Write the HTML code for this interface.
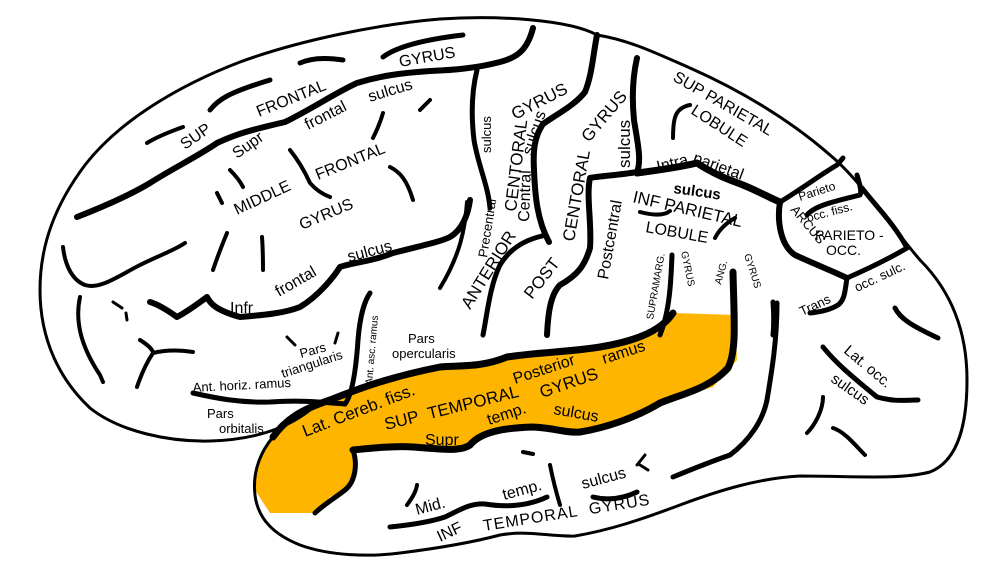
<!DOCTYPE html>
<html><head><meta charset="utf-8"><style>
html,body{margin:0;padding:0;background:#fff;width:992px;height:573px;overflow:hidden}
svg text{font-family:"Liberation Sans",sans-serif;fill:#000}
</style></head><body>
<svg width="992" height="573" viewBox="0 0 992 573" xmlns="http://www.w3.org/2000/svg">
<path d="M273,437 L307,405 L360,387 L440,367 L480,368 L507,357 L590,350 L657,333 L673,313 L735,315 L737,360 L713,387 L660,403 L623,423 L573,433 L533,427 L487,430 L467,450 L413,447 L353,450 L357,473 L347,490 L330,497 L317,513 L270,513 L255,490 L257,463 Z" fill="#FDB500"/>
<g fill="none" stroke="#000" stroke-linecap="round" stroke-linejoin="round">
<path stroke-width="3" d="M273,437 C262,450 252,470 255,495 C258,520 275,535 300,545 C330,556 370,557 400,553 C440,548 470,543 500,535 C530,530 550,537 575,536 C610,530 640,520 680,505 C720,490 760,478 800,476 C850,476 900,480 930,472 C960,460 967,420 967,380 C967,330 950,290 920,260 C890,225 860,180 830,155 C790,120 740,90 690,68 C660,55 630,40 597,35 C570,20 500,15 440,19 C380,24 300,40 240,62 C180,85 120,120 85,165 C55,205 40,245 40,290 C40,340 60,380 90,408 C120,432 170,442 210,441 C250,440 285,430 310,410"/>
<path stroke-width="5" d="M193,393 C215,398 240,403 270,402 C300,400 320,402 345,404"/>
<path stroke-width="7" d="M273,437 C285,420 300,410 330,400 C360,388 390,377 440,367 C460,365 480,368 507,357 C540,352 570,352 600,347 C630,342 660,333 673,313"/>
<path stroke-width="5" d="M345,404 C352,395 356,370 358,340 C360,315 365,300 370,293"/>
<path stroke-width="7" d="M353,450 C380,447 400,446 413,447 C440,449 460,452 470,445 C480,433 500,428 533,427 C555,428 565,433 580,432 C605,428 635,418 660,403 C685,393 710,388 728,368 C737,350 734,320 733,272"/>
<path stroke-width="5" d="M353,450 C358,465 355,482 345,490 C332,500 322,506 315,513"/>
<path stroke-width="5" d="M390,527 C410,525 430,522 445,517 C460,510 470,503 485,504 C510,508 530,505 547,497"/>
<path stroke-width="5" d="M593,497 C605,500 620,500 637,492"/>
<path stroke-width="4" d="M550,465 C553,480 557,495 560,505"/>
<path stroke-width="4" d="M407,505 C412,498 416,492 417,485"/>
<path stroke-width="4" d="M523,452 L533,454"/>
<path stroke-width="3" d="M637,465 L645,455 M640,465 L648,470"/>
<path stroke-width="5" d="M673,477 C690,470 707,463 730,455 C750,440 763,420 767,400 C772,370 777,340 777,303"/>
<path stroke-width="6" d="M77,217 C100,208 130,195 150,183 C170,170 200,155 217,143 C240,132 260,128 285,122 C310,110 335,93 357,83 C380,76 400,73 430,71 C455,70 477,68 500,62 C515,58 527,52 533,28"/>
<path stroke-width="5" d="M477,70 C472,90 471,115 474,140 C478,165 488,185 490,208"/>
<path stroke-width="4" d="M467,202 C465,230 460,255 440,288"/>
<path stroke-width="6" d="M597,35 C593,55 592,75 585,92 C575,105 557,114 543,124 C534,137 533,152 534,170 C535,195 537,220 549,242"/>
<path stroke-width="5" d="M542,236 C525,240 510,248 500,265 C490,285 487,315 483,335"/>
<path stroke-width="6" d="M637,58 C632,80 632,100 634,120 C637,140 642,160 637,172 C620,175 600,176 590,178 C586,195 592,225 590,248 C585,265 578,275 560,285 C550,295 548,315 547,335"/>
<path stroke-width="7" d="M637,173 C660,170 680,167 697,163 C715,175 730,180 743,185 C760,192 770,198 780,202"/>
<path stroke-width="4" d="M673,138 C673,118 675,108 690,105"/>
<path stroke-width="4" d="M640,212 C655,216 665,215 670,211"/>
<path stroke-width="4" d="M715,238 C720,228 728,222 735,218"/>
<path stroke-width="6" d="M780,202 C777,220 780,245 795,255 C810,262 830,270 847,278"/>
<path stroke-width="5" d="M780,202 C800,190 820,175 837,165 L843,158"/>
<path stroke-width="5" d="M857,175 C860,185 862,192 860,195 C840,200 815,205 807,215"/>
<path stroke-width="5" d="M862,188 C875,205 895,225 907,248"/>
<path stroke-width="5" d="M847,278 C870,268 890,258 907,248"/>
<path stroke-width="5" d="M847,278 C845,290 845,300 838,305 C830,310 820,312 810,313"/>
<path stroke-width="5" d="M672,255 C671,280 670,310 660,335"/>
<path stroke-width="5" d="M773,302 C774,315 774,325 773,335"/>
<path stroke-width="4" d="M147,143 C160,135 175,130 183,127"/>
<path stroke-width="5" d="M210,110 C218,100 227,93 270,80"/>
<path stroke-width="5" d="M300,63 C313,57 330,58 343,60"/>
<path stroke-width="5" d="M383,57 C395,48 420,40 463,35"/>
<path stroke-width="4" d="M420,110 L430,100"/>
<path stroke-width="4" d="M373,138 C378,128 381,120 383,113"/>
<path stroke-width="4" d="M290,150 C298,160 305,172 310,183 C316,190 322,194 330,197"/>
<path stroke-width="4" d="M230,170 C236,176 240,181 243,187"/>
<path stroke-width="4" d="M217,193 L222,203"/>
<path stroke-width="4" d="M390,167 C400,172 407,180 413,200"/>
<path stroke-width="4" d="M227,233 C222,245 217,258 213,270"/>
<path stroke-width="4" d="M262,237 C263,250 263,260 263,270"/>
<path stroke-width="6" d="M150,302 C160,305 170,312 177,317 C190,310 200,302 207,297 C210,303 215,310 240,317 C265,315 285,313 300,307 C320,295 335,275 340,267 C355,262 370,262 393,253 C420,246 440,242 450,237 C462,230 468,215 470,200"/>
<path stroke-width="4" d="M63,247 C65,265 72,280 85,285 C100,290 120,275 140,265 C160,255 175,250 185,243"/>
<path stroke-width="4" d="M80,297 C75,320 80,345 100,375 L103,382"/>
<path stroke-width="4" d="M140,340 C148,345 153,350 153,353 C145,365 140,378 137,387"/>
<path stroke-width="4" d="M153,353 C165,350 180,350 193,352"/>
<path stroke-width="3" d="M113,302 L122,308 M126,313 L127,320"/>
<path stroke-width="3" d="M287,337 L295,345 M338,333 L335,343"/>
<path stroke-width="5" d="M823,347 C835,362 850,375 877,397 C895,402 905,400 918,400"/>
<path stroke-width="5" d="M895,308 C900,318 910,325 938,338"/>
<path stroke-width="4" d="M823,397 C823,410 815,425 807,433"/>
<path stroke-width="4" d="M833,428 C845,432 855,445 865,455"/>
</g>
<g font-size="16">
<text x="400" y="67" transform="rotate(-10 400 67)">GYRUS</text>
<text x="259" y="117" transform="rotate(-22 259 117)">FRONTAL</text>
<text x="370" y="102" transform="rotate(-17 370 102)">sulcus</text>
<text x="185" y="150" transform="rotate(-35 185 150)">SUP</text>
<text x="237" y="159" transform="rotate(-35 237 159)">Supr</text>
<text x="308" y="130" transform="rotate(-27 308 130)">frontal</text>
<text x="237" y="215" transform="rotate(-25 237 215)">MIDDLE</text>
<text x="318" y="180" transform="rotate(-22 318 180)">FRONTAL</text>
<text x="302" y="230" transform="rotate(-23 302 230)">GYRUS</text>
<text x="349" y="262" transform="rotate(-15 349 262)">sulcus</text>
<text x="230" y="313">Infr</text>
<text x="279" y="297" transform="rotate(-30 279 297)">frontal</text>
<text x="301" y="358" font-size="13" transform="rotate(-15 301 358)">Pars</text>
<text x="283" y="378" font-size="13" transform="rotate(-18 283 378)">triangularis</text>
<text x="193" y="392" font-size="13" transform="rotate(-3 193 392)">Ant. horiz. ramus</text>
<text x="207" y="418" font-size="13">Pars</text>
<text x="219" y="433" font-size="13">orbitalis</text>
<text x="372" y="385" font-size="10" transform="rotate(-85 372 385)">Ant. asc. ramus</text>
<text x="408" y="343" font-size="13">Pars</text>
<text x="392" y="358" font-size="13">opercularis</text>
<text x="491" y="153" font-size="13" transform="rotate(-90 491 153)">sulcus</text>
<text x="487" y="258" font-size="13" transform="rotate(-81 487 258)">Precentral</text>
<text x="470" y="310" font-size="17" transform="rotate(-58 470 310)">ANTERIOR</text>
<text x="516" y="212" font-size="17" transform="rotate(-83 516 212)">CENTORAL</text>
<text x="515" y="120" font-size="17" transform="rotate(-27 515 120)">GYRUS</text>
<text x="529" y="222" font-size="16" transform="rotate(-88 529 222)">Central</text>
<text x="532" y="156" font-size="16" transform="rotate(-72 532 156)">sulcus</text>
<text x="532" y="300" font-size="17" transform="rotate(-52 532 300)">POST</text>
<text x="574" y="242" font-size="17" transform="rotate(-80 574 242)">CENTORAL</text>
<text x="589" y="143" font-size="17" transform="rotate(-50 589 143)">GYRUS</text>
<text x="630" y="168" font-size="17" transform="rotate(-90 630 168)">sulcus</text>
<text x="608" y="280" font-size="16" transform="rotate(-80 608 280)">Postcentral</text>
<text x="672" y="80" transform="rotate(30 672 80)">SUP PARIETAL</text>
<text x="690" y="113" transform="rotate(33 690 113)">LOBULE</text>
<text x="658" y="172" transform="rotate(-14 658 172)">Intra</text>
<text x="692" y="162" transform="rotate(20 692 162)">parietal</text>
<text x="673" y="193" font-weight="bold" font-size="15" transform="rotate(8 673 193)">sulcus</text>
<text x="632" y="202" font-size="17" transform="rotate(13 632 202)">INF  PARIETAL</text>
<text x="645" y="232" transform="rotate(10 645 232)">LOBULE</text>
<text x="653" y="320" font-size="10" transform="rotate(-80 653 320)">SUPRAMARG.</text>
<text x="681" y="252" font-size="10" transform="rotate(78 681 252)">GYRUS</text>
<text x="721" y="285" font-size="10" transform="rotate(-75 721 285)">ANG.</text>
<text x="744" y="255" font-size="10" transform="rotate(72 744 255)">GYRUS</text>
<text x="800" y="201" font-size="12" transform="rotate(-18 800 201)">Parieto</text>
<text x="808" y="222" font-size="12" transform="rotate(-15 808 222)">occ. fiss.</text>
<text x="790" y="210" font-size="13" transform="rotate(50 790 210)">ARCUS</text>
<text x="815" y="240" font-size="14">PARIETO -</text>
<text x="826" y="255" font-size="14">OCC.</text>
<text x="802" y="316" font-size="13" transform="rotate(-25 802 316)">Trans</text>
<text x="857" y="292" font-size="13" transform="rotate(-25 857 292)">occ. sulc.</text>
<text x="843" y="352" font-size="15" transform="rotate(40 843 352)">Lat. occ.</text>
<text x="830" y="381" font-size="15" transform="rotate(35 830 381)">sulcus</text>
<text x="305" y="437" font-size="17" transform="rotate(-21 305 437)">Lat. Cereb. fiss.</text>
<text x="386" y="430" font-size="17" transform="rotate(-14 386 430)">SUP&#160;&#160;TEMPORAL</text>
<text x="542" y="398" font-size="17" transform="rotate(-19 542 398)">GYRUS</text>
<text x="515" y="384" font-size="16" transform="rotate(-18 515 384)">Posterior</text>
<text x="604" y="364" font-size="16" transform="rotate(-18 604 364)">ramus</text>
<text x="489" y="425" font-size="16" transform="rotate(-18 489 425)">temp.</text>
<text x="553" y="414" font-size="16" transform="rotate(10 553 414)">sulcus</text>
<text x="425" y="445">Supr</text>
<text x="583" y="489" transform="rotate(-15 583 489)">sulcus</text>
<text x="504" y="500" transform="rotate(-15 504 500)">temp.</text>
<text x="417" y="515" transform="rotate(-15 417 515)">Mid.</text>
<text x="440" y="542" transform="rotate(-25 440 542)">INF</text>
<text x="484" y="531" textLength="168" transform="rotate(-9 484 531)">TEMPORAL&#160;&#160;GYRUS</text>
</g>
</svg>
</body></html>
